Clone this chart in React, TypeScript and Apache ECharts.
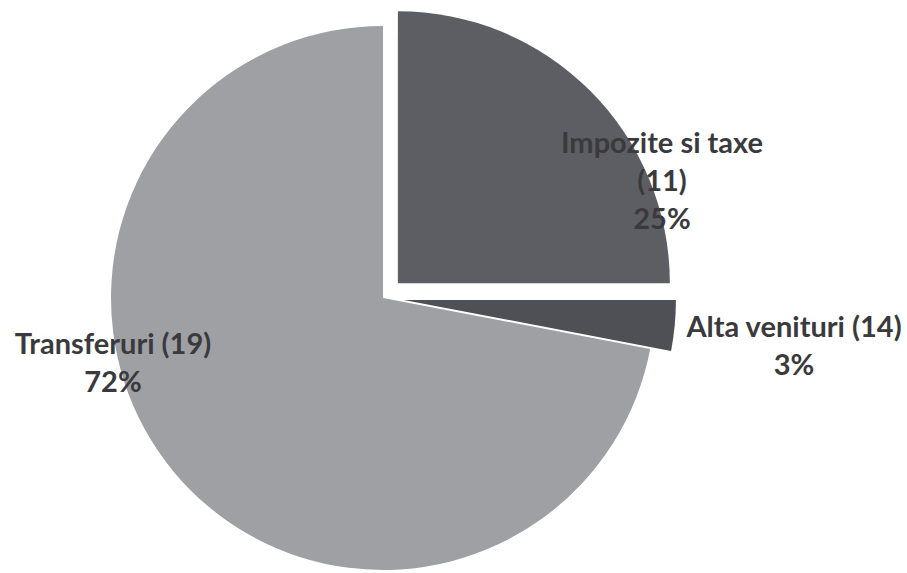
import React, { useEffect, useRef } from "react";
import * as echarts from "echarts";

const categories = ["Impozite si taxe (11)", "Alta venituri (14)", "Transferuri (19)"];
const shares = [25, 3, 72];
const exploded = [true, true, false];
const colors = ["#5d5e63", "#4f5055", "#9fa0a4"];

export default function App() {
  const ref = useRef<HTMLDivElement>(null);
  useEffect(() => {
    if (!ref.current) return;
    const chart = echarts.init(ref.current, undefined, { renderer: "svg" });
    const labelPos: Record<number, [number, number]> = {
      0: [662, 179],
      1: [794, 344],
      2: [113, 361],
    };
    const center = [383, 298];
    const radius = 272;
    chart.setOption({
      animation: false,
      backgroundColor: "#ffffff",
      series: [
        {
          type: "pie",
          center,
          radius,
          startAngle: 90,
          clockwise: true,
          selectedMode: "multiple",
          selectedOffset: 21,
          silent: true,
          emphasis: { disabled: true },
          label: { show: false },
          labelLine: { show: false },
          data: categories.map((c, i) => ({
            name: c,
            value: shares[i],
            selected: exploded[i],
            itemStyle: { color: colors[i] },
          })),
        },
        {
          type: "pie",
          center,
          radius,
          startAngle: 90,
          clockwise: true,
          silent: true,
          avoidLabelOverlap: false,
          emphasis: { disabled: true },
          itemStyle: { color: "rgba(0,0,0,0)" },
          labelLine: { show: false },
          label: {
            show: true,
            position: "inside",
            fontFamily: "Lato",
            fontWeight: "bold",
            fontSize: 29,
            lineHeight: 38,
            color: "#3a3a3c",
            align: "center",
            formatter: (p: any) => {
              const name = p.dataIndex === 0 ? p.name.replace(" (", "\n(") : p.name;
              return name + "\n" + Math.round(p.percent) + "%";
            },
          },
          labelLayout: (p: any) => {
            const pos = labelPos[p.dataIndex];
            return { x: pos[0], y: pos[1], align: "center", verticalAlign: "middle" };
          },
          data: categories.map((c, i) => ({ name: c, value: shares[i] })),
        },
      ],
    });
    return () => chart.dispose();
  }, []);
  return (
    <div
      ref={ref}
      style={{ position: "absolute", left: 0, top: 0, width: 907, height: 573 }}
    />
  );
}
